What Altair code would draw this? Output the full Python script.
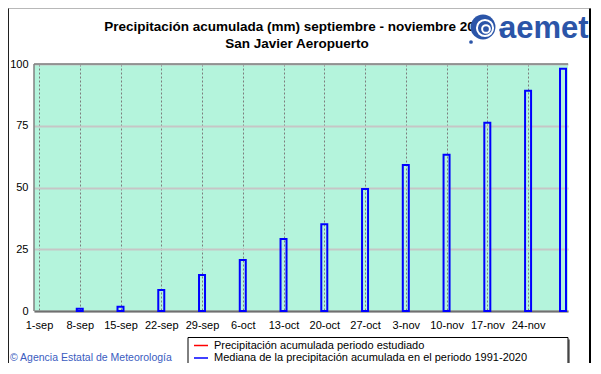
import altair as alt
import pandas as pd

# ---- data ----
tick_labels = ['1-sep', '8-sep', '15-sep', '22-sep', '29-sep', '6-oct', '13-oct',
               '20-oct', '27-oct', '3-nov', '10-nov', '17-nov', '24-nov']
tick_days = [0, 7, 14, 21, 28, 35, 42, 49, 56, 63, 70, 77, 84]
bar_days = [7, 14, 21, 28, 35, 42, 49, 56, 63, 70, 77, 84, 90]
median_values = [0.9, 1.7, 8.5, 14.6, 20.6, 29.1, 35.1, 49.4, 59.1, 63.3, 76.2, 89.2, 98.1]
y_ticks = [0, 25, 50, 75, 100]
legend_labels = ['Precipitación acumulada periodo estudiado',
                 'Mediana de la precipitación acumulada en el periodo 1991-2020']
legend_colors = ['#FF0000', '#0000FF']
title_lines = ['Precipitación acumulada (mm) septiembre - noviembre 2020', 'San Javier Aeropuerto']
credit = '© Agencia Estatal de Meteorología'

W, H = 534, 247
FONT = 'Liberation Sans'

df = pd.DataFrame({'day': bar_days, 'value': median_values})
lookup = '[' + ','.join("'%s'" % t for t in tick_labels) + ']'

x = alt.X('day:Q', scale=alt.Scale(domain=[0, 90], nice=False, zero=False),
          axis=alt.Axis(values=tick_days, labelExpr=lookup + '[round(datum.value/7)]',
                        grid=True, gridDash=[2, 2], gridColor='#7C7C7C', gridWidth=1,
                        ticks=False, domain=True, domainColor='#707070', domainWidth=2,
                        labelFont=FONT, labelFontSize=11, labelColor='#000000',
                        labelPadding=8, title=None, labelOverlap=False))
y = alt.Y('value:Q', scale=alt.Scale(domain=[0, 100], nice=False),
          axis=alt.Axis(values=y_ticks, grid=True, gridColor='#C6C6C6', gridWidth=2,
                        ticks=False, domain=False, labelFont=FONT, labelFontSize=11,
                        labelColor='#000000', labelPadding=6, title=None))

bars = alt.Chart(df).mark_bar(size=6, fill='#FFFFFF', fillOpacity=0, stroke='#0000FF',
                              strokeWidth=2, clip=False).encode(x=x, y=y)

one = pd.DataFrame({'a': [0]})

top_border = alt.Chart(one).mark_rule(color='#808080', strokeWidth=1.5).encode(
    x=alt.value(0), x2=alt.value(W), y=alt.value(0))
left_border = alt.Chart(one).mark_rule(color='#808080', strokeWidth=1.5).encode(
    x=alt.value(0), y=alt.value(0), y2=alt.value(H))

# title
tdf = pd.DataFrame({'t': title_lines})
title1 = alt.Chart(tdf.iloc[[0]]).mark_text(font=FONT, fontSize=13.5, fontWeight='bold',
                                             color='#000000', align='center', baseline='middle').encode(
    x=alt.value(263), y=alt.value(-37), text='t:N')
title2 = alt.Chart(tdf.iloc[[1]]).mark_text(font=FONT, fontSize=13.5, fontWeight='bold',
                                             color='#000000', align='center', baseline='middle').encode(
    x=alt.value(263), y=alt.value(-20), text='t:N')

# logo
LOGO = '#2B55A8'
logo_bg = alt.Chart(one).mark_point(shape='circle', filled=True, color=LOGO, size=620, opacity=1).encode(
    x=alt.value(449), y=alt.value(-37))
logo_r1 = alt.Chart(one).mark_point(shape='circle', filled=False, color='#FFFFFF', size=260,
                                    strokeWidth=2, opacity=1).encode(x=alt.value(451), y=alt.value(-36))
logo_r2 = alt.Chart(one).mark_point(shape='circle', filled=False, color='#FFFFFF', size=60,
                                    strokeWidth=2, opacity=1).encode(x=alt.value(452), y=alt.value(-35))
logo_dot1 = alt.Chart(one).mark_point(shape='circle', filled=True, color=LOGO, size=14, opacity=1).encode(
    x=alt.value(437), y=alt.value(-22))
logo_dot2 = alt.Chart(one).mark_point(shape='circle', filled=True, color=LOGO, size=14, opacity=1).encode(
    x=alt.value(467), y=alt.value(-34))
logo_txt = alt.Chart(pd.DataFrame({'t': ['aemet']})).mark_text(
    font=FONT, fontSize=31, fontWeight='bold', color=LOGO, align='left', baseline='alphabetic').encode(
    x=alt.value(465), y=alt.value(-26), text='t:N')

# legend box
shadow = alt.Chart(one).mark_rect(color='#8A8A8A').encode(
    x=alt.value(156), x2=alt.value(536), y=alt.value(275.5), y2=alt.value(302))
box = alt.Chart(one).mark_rect(fill='#FFFFFF', stroke='#000000', strokeWidth=1).encode(
    x=alt.value(154), x2=alt.value(534), y=alt.value(273.5), y2=alt.value(300))
ldf = pd.DataFrame({'label': legend_labels, 'color': legend_colors})
leg_lines = []
leg_texts = []
for i, yy in enumerate([281.5, 294]):
    leg_lines.append(alt.Chart(ldf.iloc[[i]]).mark_rule(strokeWidth=1.5).encode(
        x=alt.value(160), x2=alt.value(174), y=alt.value(yy),
        color=alt.Color('color:N', scale=None)))
    leg_texts.append(alt.Chart(ldf.iloc[[i]]).mark_text(
        font=FONT, fontSize=11, color='#000000', align='left', baseline='middle').encode(
        x=alt.value(180), y=alt.value(yy), text='label:N'))

credit_txt = alt.Chart(pd.DataFrame({'t': [credit]})).mark_text(
    font=FONT, fontSize=10.5, color='#3A5CC0', align='left', baseline='middle').encode(
    x=alt.value(-24), y=alt.value(294), text='t:N')

frame = alt.Chart(one).mark_rect(fill=None, stroke='#707070', strokeWidth=1, strokeDash=[1, 1]).encode(
    x=alt.value(-25.5), x2=alt.value(556.5), y=alt.value(-55.5), y2=alt.value(301.5))
frame_left = alt.Chart(one).mark_rule(color='#202020', strokeWidth=1).encode(
    x=alt.value(-25.5), y=alt.value(-55.5), y2=alt.value(301.5))
frame_right = alt.Chart(one).mark_rule(color='#000000', strokeWidth=2).encode(
    x=alt.value(556), y=alt.value(-55.5), y2=alt.value(301.5))

chart = alt.layer(
    bars, top_border, left_border, title1, title2,
    logo_bg, logo_r1, logo_r2, logo_dot1, logo_dot2, logo_txt,
    shadow, box, *leg_lines, *leg_texts, credit_txt, frame, frame_left, frame_right
).properties(
    width=W, height=H,
    padding={'left': 26, 'top': 56, 'right': 24, 'bottom': 52},
    autosize=alt.AutoSizeParams(type='none'),
    background='#FFFFFF'
).configure_view(fill='#B4F4DC', stroke=None)

chart.save('out.html', embed_options={'renderer': 'svg', 'actions': False})
